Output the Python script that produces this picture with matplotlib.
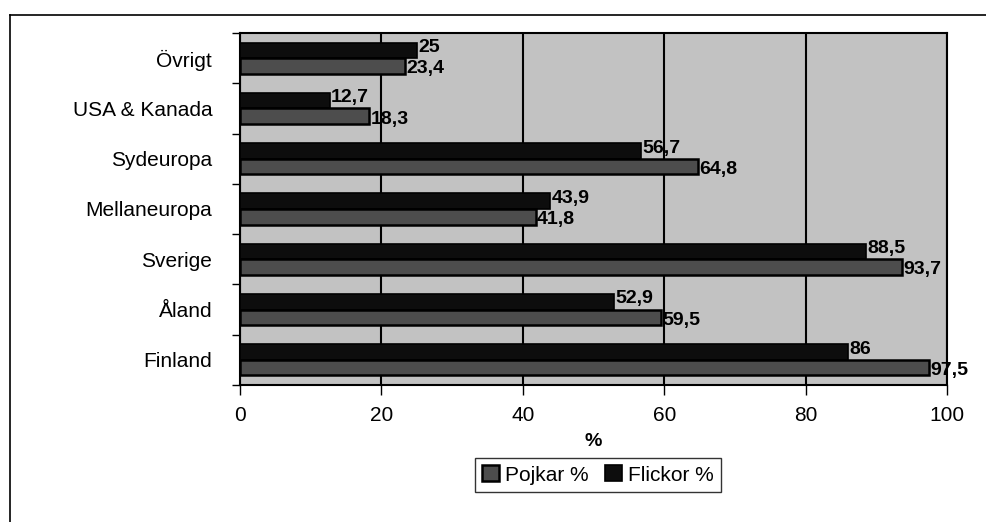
import matplotlib
matplotlib.use("Agg")
import matplotlib.pyplot as plt
import numpy as np
from matplotlib.lines import Line2D

categories = ["Övrigt", "USA & Kanada", "Sydeuropa", "Mellaneuropa", "Sverige", "Åland", "Finland"]
flickor = [25, 12.7, 56.7, 43.9, 88.5, 52.9, 86]
pojkar = [23.4, 18.3, 64.8, 41.8, 93.7, 59.5, 97.5]
xticks = [0, 20, 40, 60, 80, 100]

plt.rcParams['font.family'] = ['Liberation Sans', 'DejaVu Sans']

fig = plt.figure(figsize=(9.86, 5.22), dpi=100)
ax = fig.add_axes([240/986, 1-385/522, (947-240)/986, (385-33)/522])
ax.set_facecolor('#c2c2c2')

y = np.arange(len(categories))
h = 0.31
bf = ax.barh(y - h/2, flickor, height=h, color='#0d0d0d', edgecolor='black', linewidth=1.2, label='Flickor %', zorder=3)
bp = ax.barh(y + h/2, pojkar, height=h, color='#4d4d4d', edgecolor='black', linewidth=1.8, label='Pojkar %', zorder=3)

def fmt(v):
    return ('%g' % v).replace('.', ',')

for yi, v in zip(y - h/2, flickor):
    ax.annotate(fmt(v), (v, yi), xytext=(1, 2), textcoords='offset points',
                ha='left', va='center', fontsize=14, fontweight='bold', zorder=4)
for yi, v in zip(y + h/2, pojkar):
    ax.annotate(fmt(v), (v, yi), xytext=(1, -2), textcoords='offset points',
                ha='left', va='center', fontsize=14, fontweight='bold', zorder=4)

ax.set_xlim(0, 100)
ax.set_ylim(len(categories) - 0.5, -0.5)
ax.set_xticks(xticks)
ax.set_xticklabels([str(t) for t in xticks], fontsize=15)
ax.set_yticks(y)
ax.set_yticklabels(categories, fontsize=15)
ax.tick_params(axis='y', which='major', length=0, pad=20)
ax.set_yticks(np.arange(-0.5, len(categories) + 0.5, 1), minor=True)
ax.tick_params(axis='y', which='minor', length=6, width=1, direction='out')
ax.tick_params(axis='x', length=7, width=1, direction='out', pad=8)
ax.grid(axis='x', color='black', linewidth=1.5, zorder=1)
ax.set_axisbelow(True)
for s in ax.spines.values():
    s.set_linewidth(1.5)
    s.set_color('black')

ax.set_xlabel('%', fontsize=14, fontweight='bold', labelpad=6)

handles = [bp, bf]
leg = fig.legend(handles, ['Pojkar %', 'Flickor %'], loc='center', bbox_to_anchor=(598/986, 1-475/522),
                 ncol=2, fontsize=15, frameon=True, fancybox=False, edgecolor='black',
                 handlelength=0.8, handleheight=0.8, handletextpad=0.3, columnspacing=0.8,
                 borderpad=0.35)
leg.get_frame().set_linewidth(1.0)

fig.add_artist(Line2D([10/986, 10/986], [0, 1-15/522], transform=fig.transFigure, color='black', linewidth=1.2))
fig.add_artist(Line2D([10/986, 1], [1-15/522, 1-15/522], transform=fig.transFigure, color='black', linewidth=1.2))

fig.savefig('out.png', dpi=100)
